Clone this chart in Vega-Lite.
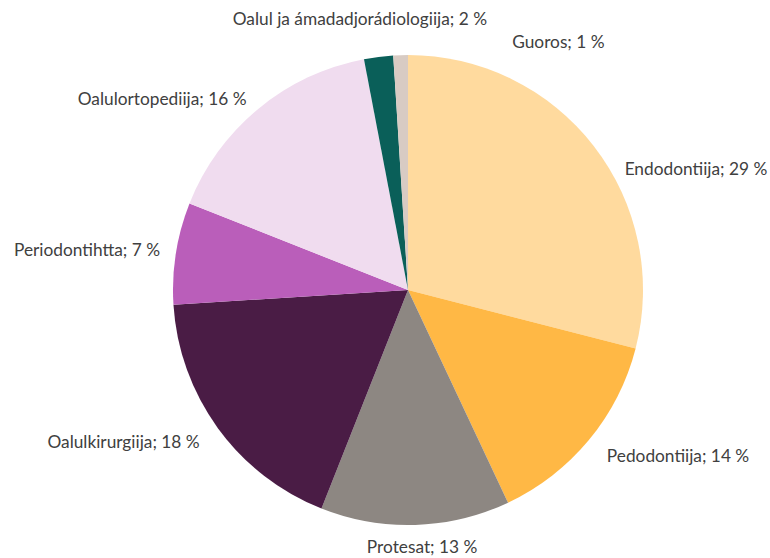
{
  "$schema": "https://vega.github.io/schema/vega-lite/v6.json",
  "width": 724,
  "height": 536,
  "padding": {"left": 46, "top": 22, "right": 0, "bottom": 0},
  "autosize": {"type": "none"},
  "background": "white",
  "view": {"stroke": null},
  "config": {"text": {"font": "Lato", "fontSize": 17.3, "fill": "#404040"}},
  "data": {"values": [
    {"rank": 1, "cat": "Endodontiija", "value": 29, "label": "Endodontiija; 29 %"},
    {"rank": 2, "cat": "Pedodontiija", "value": 14, "label": "Pedodontiija; 14 %"},
    {"rank": 3, "cat": "Protesat", "value": 13, "label": "Protesat; 13 %"},
    {"rank": 4, "cat": "Oalulkirurgiija", "value": 18, "label": "Oalulkirurgiija; 18 %"},
    {"rank": 5, "cat": "Periodontihtta", "value": 7, "label": "Periodontihtta; 7 %"},
    {"rank": 6, "cat": "Oalulortopediija", "value": 16, "label": "Oalulortopediija; 16 %"},
    {"rank": 7, "cat": "Oalul ja ámadadjorádiologiija", "value": 2, "label": "Oalul ja ámadadjorádiologiija; 2 %"},
    {"rank": 8, "cat": "Guoros", "value": 1, "label": "Guoros; 1 %"}
  ]},
  "encoding": {
    "theta": {"field": "value", "type": "quantitative", "stack": true},
    "order": {"field": "rank", "type": "quantitative"}
  },
  "layer": [
    {
      "mark": {"type": "arc", "outerRadius": 235},
      "encoding": {
        "color": {"field": "cat", "type": "nominal", "legend": null,
          "scale": {
            "domain": ["Endodontiija", "Pedodontiija", "Protesat", "Oalulkirurgiija", "Periodontihtta", "Oalulortopediija", "Oalul ja ámadadjorádiologiija", "Guoros"],
            "range": ["#FFDA9E", "#FFB845", "#8D8782", "#4A1C45", "#BA5EBA", "#F0DCEF", "#0A5F59", "#D8CBC3"]
          }}
      }
    },
    {
      "mark": {"type": "text", "radius": 240, "align": "left", "baseline": "middle", "dx": 27, "dy": 27},
      "encoding": {"text": {"condition": {"test": "datum.cat === 'Endodontiija'", "field": "label"}, "value": ""}}
    },
    {
      "mark": {"type": "text", "radius": 262, "align": "left", "baseline": "middle", "dx": -3},
      "encoding": {"text": {"condition": {"test": "datum.cat === 'Pedodontiija'", "field": "label"}, "value": ""}}
    },
    {
      "mark": {"type": "text", "radius": 258, "align": "center", "baseline": "middle", "dx": 6},
      "encoding": {"text": {"condition": {"test": "datum.cat === 'Protesat'", "field": "label"}, "value": ""}}
    },
    {
      "mark": {"type": "text", "radius": 260, "align": "right", "baseline": "middle", "dx": 2},
      "encoding": {"text": {"condition": {"test": "datum.cat === 'Oalulkirurgiija'", "field": "label"}, "value": ""}}
    },
    {
      "mark": {"type": "text", "radius": 251, "align": "right", "baseline": "middle"},
      "encoding": {"text": {"condition": {"test": "datum.cat === 'Periodontihtta'", "field": "label"}, "value": ""}}
    },
    {
      "mark": {"type": "text", "radius": 247, "align": "right", "baseline": "middle", "dx": -4},
      "encoding": {"text": {"condition": {"test": "datum.cat === 'Oalulortopediija'", "field": "label"}, "value": ""}}
    },
    {
      "mark": {"type": "text", "radius": 272, "align": "center", "baseline": "middle", "dx": -14},
      "encoding": {"text": {"condition": {"test": "datum.cat === 'Oalul ja ámadadjorádiologiija'", "field": "label"}, "value": ""}}
    },
    {
      "mark": {"type": "text", "radius": 247, "align": "left", "baseline": "middle", "dx": 112},
      "encoding": {"text": {"condition": {"test": "datum.cat === 'Guoros'", "field": "label"}, "value": ""}}
    }
  ]
}
